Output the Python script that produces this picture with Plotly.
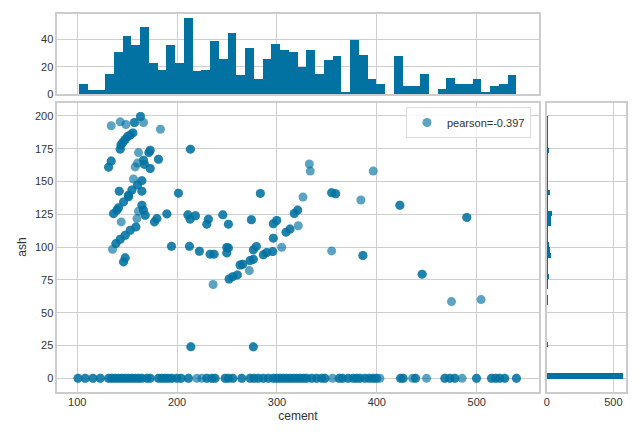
import plotly.graph_objects as go

# ---------------- data ----------------
# scatter points drawn once (lighter single points)
cement_single = [134.1, 143.1, 148.8, 166.4, 183.4, 161.4, 158.1, 160.4, 156.4, 144.1,
                 159.8, 161.4, 135.4, 236.1, 332.4, 333.4, 396.4, 384.1, 474.8, 504.4,
                 272.4, 326.1, 354.8, 304.8, 321.4,
                 219.8, 224.8, 355.8, 403.1, 435.8, 449.8, 485.4]
ash_single = [192.4, 195.4, 193.4, 194.9, 189.8, 172.0, 161.1, 164.0, 151.9, 119.2,
              121.7, 127.3, 98.4, 71.5, 163.3, 157.9, 157.9, 135.9, 58.5, 60.0,
              82.1, 138.1, 97.1, 99.9, 116.3,
              0, 0, 0, 0, 0, 0, 0]

# scatter points that overlap (repeated samples, darker)
cement_repeat = [163.4, 157.4, 155.8, 153.1, 150.4, 148.1, 145.8, 143.8, 143.1, 173.1,
                 171.8, 181.4, 166.4, 167.4, 173.1, 134.1, 131.4, 213.4, 164.8, 160.4,
                 154.8, 164.8, 142.1, 151.4, 201.4, 151.4, 146.4, 141.4, 136.4, 139.8,
                 164.8, 166.4, 168.1, 179.8, 177.4, 189.8, 158.8, 153.1, 148.1, 143.1,
                 138.8, 148.1, 146.4, 194.4, 212.4, 210.8, 213.1, 218.4, 231.4, 229.8,
                 245.8, 251.4, 222.4, 233.1, 237.1, 249.8, 249.8, 251.4, 283.4, 320.8,
                 317.4, 313.1, 309.1, 354.8, 358.8, 423.1, 490.1, 386.1, 445.4, 252.1,
                 255.8, 260.4, 263.1, 265.8, 273.1, 276.4, 276.4, 279.4, 286.4, 289.8,
                 295.8, 296.4, 296.4, 299.8, 274.4, 213.8, 276.4,
                 100.8, 108.1, 115.8, 123.1, 131.4, 134.8, 138.1, 141.4, 144.8, 148.1,
                 151.4, 154.8, 158.1, 161.4, 164.8, 169.8, 173.1, 181.4, 184.8, 188.1,
                 191.4, 194.8, 199.8, 204.1, 211.4, 229.8, 234.8, 238.1, 248.1, 251.4,
                 255.8, 264.8, 273.1, 277.1, 281.4, 286.4, 291.4, 296.4, 299.8, 303.1,
                 306.4, 309.8, 313.1, 316.4, 319.8, 323.1, 326.4, 329.8, 334.8, 339.8,
                 344.8, 348.1, 362.4, 365.8, 371.4, 376.4, 379.8, 383.1, 388.1, 392.4,
                 396.4, 399.8, 423.8, 426.4, 438.8, 468.1, 473.1, 478.1, 499.8, 514.8,
                 519.1, 523.1, 528.1, 539.8]
ash_repeat = [199.5, 194.9, 187.0, 185.4, 184.2, 182.0, 179.9, 177.8, 174.6, 173.8,
              172.0, 166.9, 166.2, 163.0, 159.9, 165.5, 160.9, 174.6, 150.6, 147.3,
              143.5, 142.6, 142.6, 139.5, 141.1, 138.3, 134.4, 129.9, 125.5, 128.2,
              131.9, 128.1, 124.3, 121.7, 119.2, 125.3, 115.4, 112.8, 109.0, 106.0,
              102.7, 91.8, 88.7, 100.6, 100.6, 124.6, 121.3, 123.9, 121.3, 117.5,
              124.6, 117.5, 96.8, 94.6, 94.6, 99.7, 95.6, 99.4, 140.9, 128.2,
              125.6, 113.7, 111.4, 141.4, 140.6, 131.9, 122.6, 93.6, 79.4, 75.7,
              77.5, 78.8, 86.4, 86.9, 89.7, 90.7, 97.9, 100.5, 94.1, 95.8,
              96.6, 106.8, 117.8, 120.3, 120.8, 24.0, 24.0,
              0, 0, 0, 0, 0, 0, 0, 0, 0, 0,
              0, 0, 0, 0, 0, 0, 0, 0, 0, 0,
              0, 0, 0, 0, 0, 0, 0, 0, 0, 0,
              0, 0, 0, 0, 0, 0, 0, 0, 0, 0,
              0, 0, 0, 0, 0, 0, 0, 0, 0, 0,
              0, 0, 0, 0, 0, 0, 0, 0, 0, 0,
              0, 0, 0, 0, 0, 0, 0, 0, 0, 0,
              0, 0, 0, 0]

# histogram of cement (50 bins between min and max)
cement_min, cement_max = 102.0, 540.0
cement_counts = [7, 3, 3, 15, 31, 43, 36, 49, 23, 18, 36, 23, 56, 17, 18, 39, 26, 45, 14, 34,
                 11, 26, 37, 32, 31, 20, 32, 15, 25, 28, 1, 40, 29, 11, 7, 0, 28, 6, 6, 15,
                 0, 4, 12, 7, 7, 11, 1, 6, 7, 14]

# histogram of ash (50 bins between min and max)
ash_min, ash_max = 0.0, 200.1
ash_counts = [566, 0, 0, 0, 0, 0, 4, 0, 0, 0, 0, 0, 0, 0, 1, 1, 0, 1, 2, 8,
              2, 3, 4, 30, 22, 15, 3, 4, 5, 30, 32, 40, 6, 3, 2, 25, 2, 2, 1, 2,
              6, 3, 2, 16, 2, 2, 2, 1, 3, 2]

legend_label = "pearson=-0.397"
x_label, y_label = "cement", "ash"
main_xticks = [100, 200, 300, 400, 500]
main_yticks = [0, 25, 50, 75, 100, 125, 150, 175, 200]
top_yticks = [0, 20, 40]
right_xticks = [0, 500]

# ---------------- figure ----------------
BLUE = "#0272a2"
W, H = 640, 440

def px(xp):
    return xp / W

def py(yp):
    return 1 - yp / H

cw = (cement_max - cement_min) / len(cement_counts)
cement_centers = [cement_min + cw * (i + 0.5) for i in range(len(cement_counts))]
aw = (ash_max - ash_min) / len(ash_counts)
ash_centers = [ash_min + aw * (i + 0.5) for i in range(len(ash_counts))]

sc_x = cement_single + cement_repeat + cement_repeat
sc_y = ash_single + ash_repeat + ash_repeat

fig = go.Figure()
fig.add_trace(go.Scatter(
    x=sc_x, y=sc_y, mode="markers", name=legend_label,
    marker=dict(color=BLUE, size=9, opacity=0.65, line=dict(width=0)),
    xaxis="x", yaxis="y", showlegend=True))
fig.add_trace(go.Bar(
    x=cement_centers, y=cement_counts, width=cw,
    marker=dict(color=BLUE, line=dict(width=0)),
    xaxis="x2", yaxis="y2", showlegend=False))
fig.add_trace(go.Bar(
    y=ash_centers, x=ash_counts, width=aw, orientation="h",
    marker=dict(color=BLUE, line=dict(width=0)),
    xaxis="x3", yaxis="y3", showlegend=False))

GRID = "#cfcfcf"
EDGE = "#cccccc"
TICKC = "#333333"
FONT = "Liberation Sans, Arial, sans-serif"

def ax(**kw):
    d = dict(showline=True, mirror=True, linecolor=EDGE, linewidth=1.5,
             showgrid=True, gridcolor=GRID, gridwidth=1, zeroline=False,
             automargin=False,
             ticks="", tickfont=dict(family=FONT, size=11, color=TICKC))
    d.update(kw)
    return d

xr = [80.1, 561.9]
yr = [-10.0, 210.0]

fig.update_layout(
    template="none",
    width=W, height=H,
    margin=dict(l=0, r=0, t=0, b=0, pad=0),
    paper_bgcolor="white", plot_bgcolor="white",
    font=dict(family=FONT, size=11, color=TICKC),
    xaxis=ax(domain=[px(57.3), px(538.5)], range=xr, tickvals=main_xticks,
             anchor="y",
             title=dict(text=x_label, font=dict(family=FONT, size=12, color=TICKC), standoff=4)),
    yaxis=ax(domain=[py(391.5), py(102.7)], range=yr, tickvals=main_yticks,
             anchor="x",
             title=dict(text=y_label, font=dict(family=FONT, size=12, color=TICKC), standoff=6)),
    xaxis2=ax(domain=[px(57.3), px(538.5)], range=xr, tickvals=main_xticks,
              showticklabels=False, anchor="y2"),
    yaxis2=ax(domain=[py(94), py(14)], range=[0, 58.8], tickvals=top_yticks, anchor="x2"),
    xaxis3=ax(domain=[px(546.7), px(626)], range=[0, 594.3], tickvals=right_xticks, anchor="y3"),
    yaxis3=ax(domain=[py(391.5), py(102.7)], range=yr, tickvals=main_yticks,
              showticklabels=False, anchor="x3"),
    legend=dict(x=px(531), y=py(107), xanchor="right", yanchor="top",
                bgcolor="rgba(255,255,255,0.85)", bordercolor="#dddddd", borderwidth=1,
                font=dict(family=FONT, size=11, color=TICKC)),
    bargap=0,
)

fig.write_html("out.html")
